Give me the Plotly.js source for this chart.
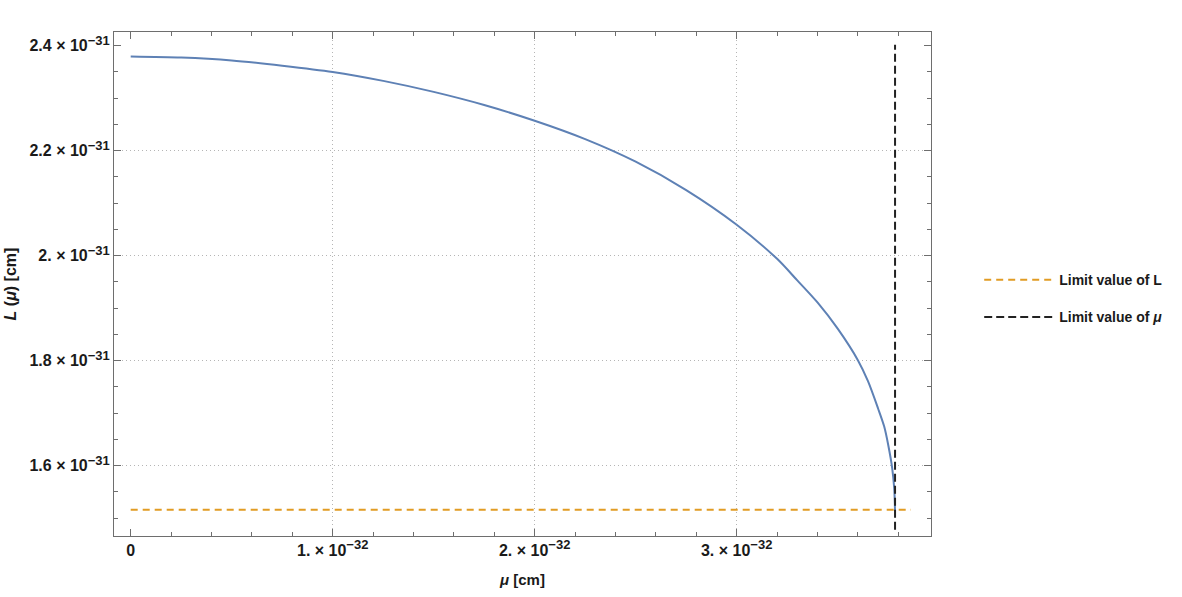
<!DOCTYPE html>
<html>
<head>
<meta charset="utf-8">
<script src="https://cdn.plot.ly/plotly-3.0.1.min.js"></script>
<style>
  html, body { margin: 0; padding: 0; background: #fff; }
  #chart { width: 1182px; height: 597px; }
</style>
</head>
<body>
<div id="chart"></div>
<script>
// curve L(mu)
const mu = [0, 0.25e-32, 0.5e-32, 0.75e-32, 1.0e-32, 1.25e-32, 1.5e-32, 1.75e-32, 2.0e-32, 2.25e-32,
  2.5e-32, 2.75e-32, 3.0e-32, 3.2e-32, 3.3e-32, 3.4e-32, 3.5e-32, 3.6e-32, 3.65e-32, 3.7e-32,
  3.73e-32, 3.75e-32, 3.77e-32, 3.78e-32, 3.784e-32];
const L = [2.3796e-31, 2.3775e-31, 2.372e-31, 2.362e-31, 2.350e-31, 2.333e-31, 2.312e-31, 2.287e-31, 2.257e-31, 2.222e-31,
  2.179e-31, 2.125e-31, 2.059e-31, 1.994e-31, 1.953e-31, 1.911e-31, 1.861e-31, 1.801e-31, 1.761e-31, 1.709e-31,
  1.675e-31, 1.640e-31, 1.595e-31, 1.556e-31, 1.513e-31];

// limit lines
const limitLx = [0, 3.863e-32];
const limitLy = [1.516e-31, 1.516e-31];
const limitMux = [3.784e-32, 3.784e-32];
const limitMuy = [1.478e-31, 2.402e-31];

// ticks
const sup = s => '<sup><span style="font-size:13px">' + s + '</span></sup>';
const xTickVals = [0, 1e-32, 2e-32, 3e-32];
const xTickText = ['0', '1. × 10' + sup('−32'), '2. × 10' + sup('−32'), '3. × 10' + sup('−32')];
const xGridVals = [1e-32, 2e-32, 3e-32];
const yTickVals = [1.6e-31, 1.8e-31, 2.0e-31, 2.2e-31, 2.4e-31];
const yTickText = ['1.6 × 10' + sup('−31'), '1.8 × 10' + sup('−31'), '2. × 10' + sup('−31'), '2.2 × 10' + sup('−31'), '2.4 × 10' + sup('−31')];
const yGridVals = [1.6e-31, 1.8e-31, 2.0e-31, 2.2e-31];

const xRange = [-0.0827e-32, 3.962e-32];
const yRange = [1.4661e-31, 2.4261e-31];

const fontFam = '"Liberation Sans", Arial, sans-serif';
const frameColor = '#6e6e6e';

const data = [
  {
    x: mu, y: L,
    mode: 'lines', type: 'scatter',
    line: { color: '#5E81B5', width: 2, shape: 'spline', smoothing: 0.8 },
    showlegend: false
  },
  {
    x: limitLx, y: limitLy,
    name: 'Limit value of L',
    legendgroup: 'a',
    mode: 'lines', type: 'scatter',
    line: { color: '#E19C24', width: 2, dash: '7px,5px' },
    xaxis: 'x2', yaxis: 'y2'
  },
  {
    x: limitMux, y: limitMuy,
    name: 'Limit value of <i>μ</i>',
    legendgroup: 'b',
    mode: 'lines', type: 'scatter',
    line: { color: '#222222', width: 2, dash: '8px,4px' },
    xaxis: 'x2', yaxis: 'y2'
  }
];

const tickFont = { family: fontFam, size: 16, color: '#1a1a1a', weight: 'bold' };

const layout = {
  width: 1182, height: 597,
  margin: { l: 114, r: 251, t: 32, b: 61 },
  paper_bgcolor: '#fff', plot_bgcolor: '#fff',
  font: { family: fontFam, size: 12, color: '#1a1a1a' },
  // grid only (Mathematica leaves out the lines at 0 and at the top label)
  xaxis: {
    range: xRange,
    tickmode: 'array', tickvals: xGridVals,
    showticklabels: false, ticks: '',
    showgrid: true, gridcolor: '#b5b5b5', gridwidth: 1, griddash: '1px,3px',
    showline: false, zeroline: false
  },
  yaxis: {
    range: yRange,
    tickmode: 'array', tickvals: yGridVals,
    showticklabels: false, ticks: '',
    showgrid: true, gridcolor: '#b5b5b5', gridwidth: 1, griddash: '1px,3px',
    showline: false, zeroline: false
  },
  // frame, ticks and labels
  xaxis2: {
    overlaying: 'x', anchor: 'y2', side: 'bottom',
    range: xRange,
    tickmode: 'array', tickvals: xTickVals, ticktext: xTickText,
    tickfont: tickFont,
    ticks: 'inside', ticklen: 7, tickcolor: frameColor, tickwidth: 1,
    minor: { dtick: 0.2e-32, tick0: 0, ticks: 'inside', ticklen: 4, tickcolor: frameColor, showgrid: false },
    showline: true, linecolor: frameColor, linewidth: 1, mirror: 'allticks',
    showgrid: false, zeroline: false,
    title: { text: '<b><i>μ</i> [cm]</b>', font: { family: fontFam, size: 15, color: '#1a1a1a' }, standoff: 16 }
  },
  yaxis2: {
    overlaying: 'y', anchor: 'x2', side: 'left',
    range: yRange,
    tickmode: 'array', tickvals: yTickVals, ticktext: yTickText,
    tickfont: tickFont,
    ticks: 'inside', ticklen: 7, tickcolor: frameColor, tickwidth: 1,
    minor: { dtick: 0.05e-31, tick0: 0, ticks: 'inside', ticklen: 4, tickcolor: frameColor, showgrid: false },
    showline: true, linecolor: frameColor, linewidth: 1, mirror: 'allticks',
    showgrid: false, zeroline: false,
    title: { text: '<b><i>L</i> (<i>μ</i>) [cm]</b>', font: { family: fontFam, size: 16, color: '#1a1a1a' }, standoff: 8 }
  },
  legend: {
    x: 1.059, xanchor: 'left', y: 0.471, yanchor: 'middle',
    traceorder: 'grouped', tracegroupgap: 16,
    itemwidth: 70,
    font: { family: fontFam, size: 14, color: '#1a1a1a', weight: 'bold' },
    bgcolor: 'rgba(0,0,0,0)'
  }
};

const config = { responsive: false, displayModeBar: false, staticPlot: true };
Plotly.newPlot('chart', data, layout, config);
</script>
</body>
</html>
